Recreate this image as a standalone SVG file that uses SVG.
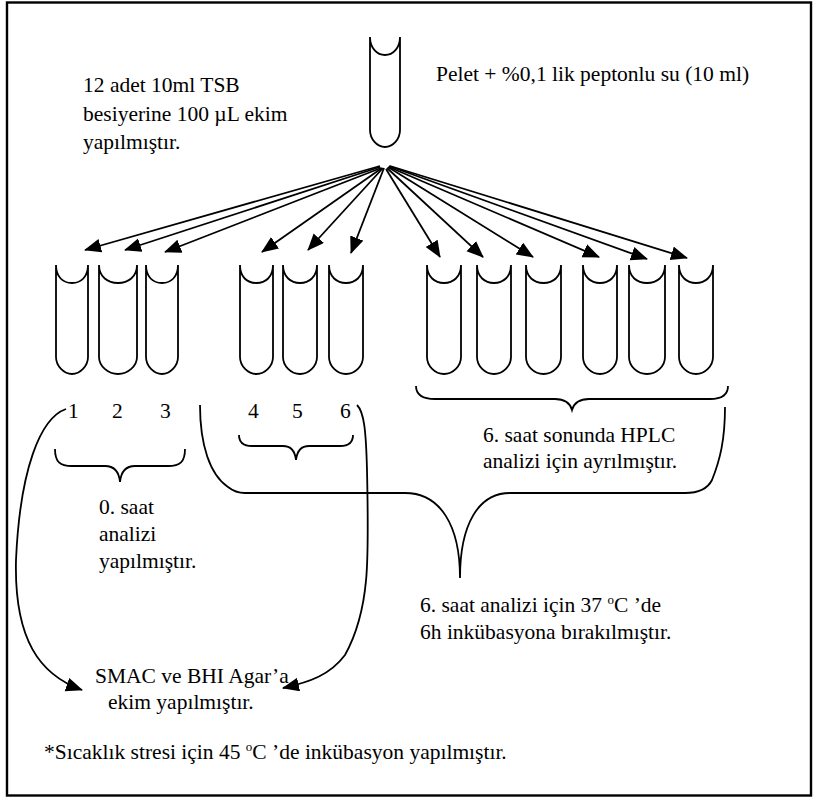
<svg xmlns="http://www.w3.org/2000/svg" width="814" height="798" viewBox="0 0 814 798">
<style>
  .ln { fill: none; stroke: #000; stroke-width: 1.8; }
  .tb { fill: none; stroke: #000; stroke-width: 1.8; stroke-linejoin: round; }
  text { font-family: 'Liberation Serif', Tinos, 'DejaVu Serif', 'Times New Roman', serif; font-size: 21.5px; fill: #000; }
  .sup { font-size: 13px; }
</style>
<defs>
  <marker id="ah" markerUnits="userSpaceOnUse" markerWidth="19" markerHeight="16" refX="16" refY="7" orient="auto">
    <path d="M0,0 L17,7 L0,14 z" fill="#000"/>
  </marker>
</defs>
<rect x="7" y="2.5" width="804" height="793" fill="#fff" stroke="#000" stroke-width="2.4"/>

<g id="tube-main"><path class="tb" d="M370,37 v93 c0,9 7,17 15,17 c8,0 15,-8 15,-17 v-93 M370,37 c0,11 7,18 15,18 c8,0 15,-7 15,-18"/></g>
<g id="tube-1"><path class="tb" d="M56,265 v92 c0,9 8,17 16,17 c8,0 16,-8 16,-17 v-92 M56,265 c0,12 7,18 16,18 c9,0 16,-6 16,-18"/></g>
<g id="tube-2"><path class="tb" d="M99,265 v92 c0,9 9,17 19,17 c10,0 19,-8 19,-17 v-92 M99,265 c0,12 9,18 19,18 c10,0 19,-6 19,-18"/></g>
<g id="tube-3"><path class="tb" d="M146,265 v92 c0,9 8,17 16,17 c8,0 16,-8 16,-17 v-92 M146,265 c0,12 7,18 16,18 c9,0 16,-6 16,-18"/></g>
<g id="tube-4"><path class="tb" d="M240,265 v92 c0,9 8,17 16.5,17 c8.5,0 16.5,-8 16.5,-17 v-92 M240,265 c0,12 7,18 16.5,18 c9,0 16.5,-6 16.5,-18"/></g>
<g id="tube-5"><path class="tb" d="M283,265 v92 c0,9 8,17 17,17 c9,0 17,-8 17,-17 v-92 M283,265 c0,12 8,18 17,18 c9,0 17,-6 17,-18"/></g>
<g id="tube-6"><path class="tb" d="M329,265 v92 c0,9 8,17 17,17 c9,0 17,-8 17,-17 v-92 M329,265 c0,12 8,18 17,18 c9,0 17,-6 17,-18"/></g>
<g id="tube-7"><path class="tb" d="M427,265 v92 c0,9 8,17 17,17 c9,0 17,-8 17,-17 v-92 M427,265 c0,12 8,18 17,18 c9,0 17,-6 17,-18"/></g>
<g id="tube-8"><path class="tb" d="M477,265 v92 c0,9 8,17 17,17 c9,0 17,-8 17,-17 v-92 M477,265 c0,12 8,18 17,18 c9,0 17,-6 17,-18"/></g>
<g id="tube-9"><path class="tb" d="M526,265 v92 c0,9 8,17 17.5,17 c9.5,0 17.5,-8 17.5,-17 v-92 M526,265 c0,12 8,18 17.5,18 c9.5,0 17.5,-6 17.5,-18"/></g>
<g id="tube-10"><path class="tb" d="M583,265 v92 c0,9 8,17 17,17 c9,0 17,-8 17,-17 v-92 M583,265 c0,12 8,18 17,18 c9,0 17,-6 17,-18"/></g>
<g id="tube-11"><path class="tb" d="M629,265 v92 c0,9 8,17 18,17 c10,0 18,-8 18,-17 v-92 M629,265 c0,12 8,18 18,18 c10,0 18,-6 18,-18"/></g>
<g id="tube-12"><path class="tb" d="M679,265 v92 c0,9 8,17 17,17 c9,0 17,-8 17,-17 v-92 M679,265 c0,12 8,18 17,18 c9,0 17,-6 17,-18"/></g>

<g id="connectors">
  <line class="ln" x1="380" y1="166" x2="85" y2="250" marker-end="url(#ah)"/>
  <line class="ln" x1="380" y1="167" x2="125" y2="250" marker-end="url(#ah)"/>
  <line class="ln" x1="381" y1="168" x2="165" y2="252" marker-end="url(#ah)"/>
  <line class="ln" x1="382" y1="168" x2="262" y2="252" marker-end="url(#ah)"/>
  <line class="ln" x1="383" y1="168" x2="308" y2="250" marker-end="url(#ah)"/>
  <line class="ln" x1="384" y1="168" x2="351" y2="253" marker-end="url(#ah)"/>
  <line class="ln" x1="386" y1="169" x2="440" y2="257" marker-end="url(#ah)"/>
  <line class="ln" x1="387" y1="168" x2="483" y2="257" marker-end="url(#ah)"/>
  <line class="ln" x1="388" y1="167" x2="533" y2="257" marker-end="url(#ah)"/>
  <line class="ln" x1="389" y1="167" x2="599" y2="257" marker-end="url(#ah)"/>
  <line class="ln" x1="389" y1="166" x2="647" y2="259" marker-end="url(#ah)"/>
  <line class="ln" x1="390" y1="166" x2="687" y2="258" marker-end="url(#ah)"/>
  <path class="ln" d="M66,409 C40,418 20,470 16,560 C14,640 40,675 82,690" marker-end="url(#ah)"/>
  <path class="ln" d="M357,405 C364,412 366,430 367,470 C369,560 370,610 345,655 C330,675 310,682 283,688" marker-end="url(#ah)"/>
</g>

<g id="braces">
  <path class="ln" d="M55,449 C55,462 60,466 72,466 L105,466 C114,466 119,472 120,482 C121,472 126,466 135,466 L168,466 C180,466 185,462 185,449"/>
  <path class="ln" d="M239,435 C239,443 244,446 252,446 L283,446 C291,446 295,451 296,460 C297,451 301,446 309,446 L340,446 C348,446 353,443 353,435"/>
  <path class="ln" d="M416,386 C416,395 422,399 435,399 L555,399 C565,399 570,403 572,410 C574,403 579,399 589,399 L710,399 C722,399 728,395 728,386"/>
  <path class="ln" d="M200,405 C200,445 210,475 228,487 C233,491 238,493 245,493 L405,493 C440,493 460,525 460,578 C460,525 478,493 510,493 L685,493 C700,493 708,488 712,480 C720,460 725,440 725,407"/>
</g>

<g id="labels">
  <text x="436" y="81">Pelet + %0,1 lik peptonlu su (10 ml)</text>
  <text x="83" y="92">12 adet 10ml TSB</text>
  <text x="83" y="121">besiyerine 100 µL ekim</text>
  <text x="83" y="149">yapılmıştır.</text>
  <text x="68" y="418">1</text>
  <text x="112" y="418">2</text>
  <text x="160" y="418">3</text>
  <text x="248" y="418">4</text>
  <text x="292" y="418">5</text>
  <text x="340" y="418">6</text>
  <text x="99" y="514">0. saat</text>
  <text x="99" y="541">analizi</text>
  <text x="99" y="568">yapılmıştır.</text>
  <text x="483" y="442">6. saat sonunda HPLC</text>
  <text x="483" y="468">analizi için ayrılmıştır.</text>
  <text x="420" y="612">6. saat analizi için 37 <tspan class="sup" dy="-8">o</tspan><tspan dy="8">C ’de</tspan></text>
  <text x="420" y="639">6h inkübasyona bırakılmıştır.</text>
  <text x="95" y="683">SMAC ve BHI Agar’a</text>
  <text x="108" y="709">ekim yapılmıştır.</text>
  <text x="44" y="759">*Sıcaklık stresi için 45 <tspan class="sup" dy="-8">o</tspan><tspan dy="8">C ’de inkübasyon yapılmıştır.</tspan></text>
</g>
</svg>
